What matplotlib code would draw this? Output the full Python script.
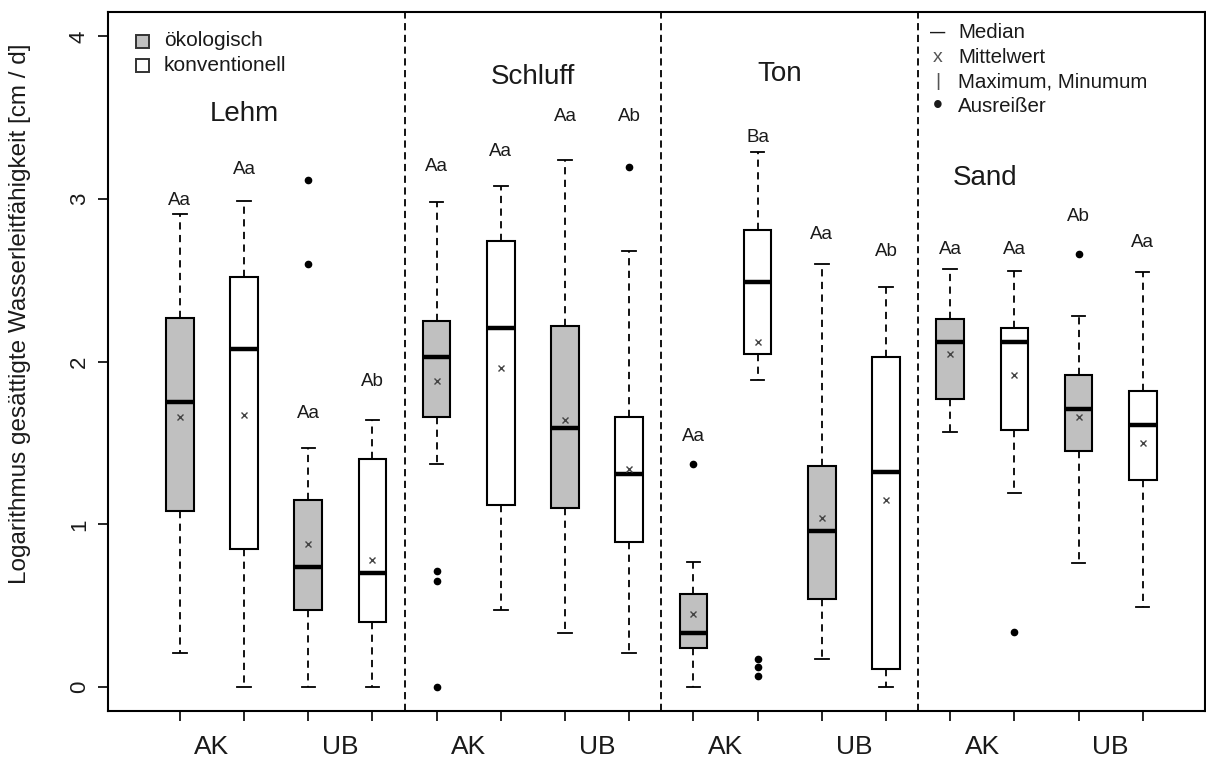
import matplotlib
matplotlib.use("Agg")
import matplotlib.pyplot as plt
from matplotlib.patches import Rectangle

# boxes per soil: AK oeko, AK konv, UB oeko, UB konv
groups = ["Lehm", "Schluff", "Ton", "Sand"]
sites = ["AK", "UB"]
organic = [True, False, True, False] * 4
letters = ["Aa", "Aa", "Aa", "Ab", "Aa", "Aa", "Aa", "Ab",
           "Aa", "Ba", "Aa", "Ab", "Aa", "Aa", "Ab", "Aa"]

whis_hi = [2.91, 2.99, 1.47, 1.64, 2.98, 3.08, 3.24, 2.68,
           0.77, 3.29, 2.60, 2.46, 2.57, 2.56, 2.28, 2.55]
q3 = [2.27, 2.52, 1.15, 1.40, 2.25, 2.74, 2.22, 1.66,
      0.57, 2.81, 1.36, 2.03, 2.26, 2.21, 1.92, 1.82]
median = [1.75, 2.08, 0.74, 0.70, 2.03, 2.21, 1.59, 1.31,
          0.33, 2.49, 0.96, 1.32, 2.12, 2.12, 1.71, 1.61]
mean = [1.66, 1.67, 0.88, 0.78, 1.88, 1.96, 1.64, 1.34,
        0.45, 2.12, 1.04, 1.15, 2.05, 1.92, 1.66, 1.50]
q1 = [1.08, 0.85, 0.47, 0.40, 1.66, 1.12, 1.10, 0.89,
      0.24, 2.05, 0.54, 0.11, 1.77, 1.58, 1.45, 1.27]
whis_lo = [0.21, 0.0, 0.0, 0.0, 1.37, 0.47, 0.33, 0.21,
           0.0, 1.89, 0.17, 0.0, 1.57, 1.19, 0.76, 0.49]
outliers = [[], [], [2.60, 3.12], [], [0.0, 0.65, 0.71], [], [], [3.20],
            [1.37], [0.07, 0.12, 0.17], [], [], [], [0.34], [2.66], []]
letter_y = [2.99, 3.18, 1.68, 1.88, 3.20, 3.29, 3.51, 3.51,
            1.54, 3.38, 2.78, 2.68, 2.69, 2.69, 2.89, 2.73]
title_x = [2.0, 6.5, 10.35, 13.55]
title_y = [3.52, 3.75, 3.77, 3.13]

W, H = 1206, 760
txt = "#1a1a1a"
plt.rcParams['font.family'] = ['Liberation Sans', 'DejaVu Sans']

fig = plt.figure(figsize=(W / 100, H / 100), dpi=100)
ax = fig.add_axes([108 / W, 1 - 711 / H, (1205 - 108) / W, (711 - 12) / H])

pos = list(range(1, 17))
stats = []
for i in range(16):
    stats.append(dict(med=median[i], q1=q1[i], q3=q3[i], whislo=whis_lo[i],
                      whishi=whis_hi[i], mean=mean[i], fliers=outliers[i]))

bp = ax.bxp(stats, positions=pos, widths=0.43, patch_artist=True,
            showmeans=True, showcaps=True,
            boxprops=dict(edgecolor="black", linewidth=1.5),
            medianprops=dict(color="black", linewidth=3.2),
            whiskerprops=dict(color="black", linewidth=1.3, linestyle=(0, (4, 3))),
            capprops=dict(color="black", linewidth=1.3),
            capwidths=0.21,
            meanprops=dict(marker="x", markersize=4, markeredgecolor="#444444",
                           markeredgewidth=1.0),
            flierprops=dict(marker="o", markersize=4.5, markerfacecolor="black",
                            markeredgecolor="black"))
for box, eco in zip(bp["boxes"], organic):
    box.set_facecolor("#c0c0c0" if eco else "white")

# significance letters
for i in range(16):
    ax.text(pos[i], letter_y[i], letters[i], ha="center", va="center",
            fontsize=13.5, color=txt)

# soil names and dividers
for g in range(4):
    ax.text(title_x[g], title_y[g], groups[g], ha="center", va="center",
            fontsize=20, color=txt)
for xd in [4.5, 8.5, 12.5]:
    ax.axvline(xd, color="black", linewidth=1.3, linestyle=(0, (4, 2.5)))

ax.set_xlim(-0.12, 16.97)
ax.set_ylim(-0.148, 4.15)

ax.set_xticks(pos)
ax.set_xticklabels([])
ax.set_xticks([1.5 + 2 * k for k in range(8)], minor=True)
ax.set_xticklabels(sites * 4, minor=True, fontsize=19, color=txt)
ax.tick_params(axis="x", which="minor", length=0, pad=17)
ax.tick_params(axis="x", which="major", length=7, width=1.2, direction="out")

ax.set_yticks([0, 1, 2, 3, 4])
ax.set_yticklabels(["0", "1", "2", "3", "4"], rotation=90, va="center",
                   fontsize=16, color=txt)
ax.tick_params(axis="y", length=7, width=1.2, pad=6)
ax.set_ylabel("Logarithmus gesättigte Wasserleitfähigkeit [cm / d]",
              fontsize=17.5, color=txt, va="center")
ax.yaxis.set_label_coords(-0.080, 0.568)

for s in ax.spines.values():
    s.set_linewidth(1.5)

# legend: management
for k, (lab, fc) in enumerate([("ökologisch", "#c0c0c0"), ("konventionell", "white")]):
    yy = 1 - (41 + 24.5 * k) / H
    fig.patches.append(Rectangle((136 / W, yy - 6.5 / H), 13 / W, 13 / H,
                                 transform=fig.transFigure, facecolor=fc,
                                 edgecolor="#333333", linewidth=1.4))
    fig.text(164 / W, yy, lab, fontsize=15, va="center", color=txt)

# legend: symbols
sym = ["—", "x", "|", "•"]
sym_col = [txt, "#555555", "#555555", txt]
sym_size = [11, 14, 14, 20]
labs = ["Median", "Mittelwert", "Maximum, Minumum", "Ausreißer"]
for k in range(4):
    yy = 1 - (33 + 24.5 * k) / H
    fig.text(938 / W, yy, sym[k], fontsize=sym_size[k], ha="center", va="center",
             color=sym_col[k], weight="bold" if k == 0 else "normal")
    fig.text(958 / W, yy, labs[k], fontsize=14.75, va="center", color=txt)

fig.savefig("out.png", dpi=100, facecolor="white")
